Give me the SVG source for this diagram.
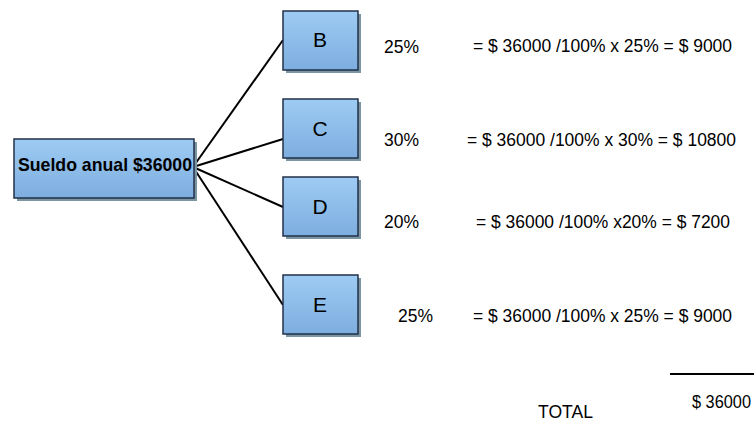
<svg xmlns="http://www.w3.org/2000/svg" width="756" height="423" viewBox="0 0 756 423">
  <defs>
    <linearGradient id="boxFill" x1="0" y1="0" x2="0" y2="1">
      <stop offset="0" stop-color="#9dcbf3"/>
      <stop offset="1" stop-color="#7eaedf"/>
    </linearGradient>
  </defs>
  <style>
    .shadow { fill: #7b95a3; }
    .box { fill: url(#boxFill); stroke: #22314a; stroke-width: 1.5; }
    .label { font-family: "Liberation Sans", Arial, sans-serif; font-size: 21px; fill: #000; text-anchor: middle; }
    .main { font-family: "Liberation Sans", Arial, sans-serif; font-size: 18.5px; font-weight: bold; fill: #000; }
    .txt { font-family: "Liberation Sans", Arial, sans-serif; font-size: 18px; fill: #000; }
    .link { stroke: #000; stroke-width: 2; fill: none; }
  </style>
  <rect width="756" height="423" fill="#fff"/>

  <!-- connectors -->
  <g id="connectors">
    <line class="link" x1="193" y1="167" x2="283" y2="40"/>
    <line class="link" x1="193" y1="167" x2="283" y2="139"/>
    <line class="link" x1="193" y1="167" x2="283" y2="207"/>
    <line class="link" x1="193" y1="167" x2="283" y2="305"/>
  </g>

  <!-- nodes -->
  <g id="node-sueldo">
    <rect class="shadow" x="17" y="142" width="180" height="59"/>
    <rect class="box" x="14" y="139" width="180" height="59"/>
    <text class="main" x="18" y="171" textLength="174" lengthAdjust="spacingAndGlyphs">Sueldo anual $36000</text>
  </g>
  <g id="node-b">
    <rect class="shadow" x="286" y="14" width="75" height="59"/>
    <rect class="box" x="283" y="11" width="75" height="59"/>
    <text class="label" x="320" y="47">B</text>
  </g>
  <g id="node-c">
    <rect class="shadow" x="286" y="102" width="75" height="59"/>
    <rect class="box" x="283" y="99" width="75" height="59"/>
    <text class="label" x="320" y="136">C</text>
  </g>
  <g id="node-d">
    <rect class="shadow" x="286" y="180" width="75" height="59"/>
    <rect class="box" x="283" y="177" width="75" height="59"/>
    <text class="label" x="320" y="214">D</text>
  </g>
  <g id="node-e">
    <rect class="shadow" x="286" y="278" width="75" height="59"/>
    <rect class="box" x="283" y="275" width="75" height="59"/>
    <text class="label" x="320" y="312">E</text>
  </g>

  <!-- percentages and calculations -->
  <g id="calculations">
    <text class="txt" x="384" y="53" textLength="35" lengthAdjust="spacingAndGlyphs">25%</text>
    <text class="txt" x="473" y="52" textLength="259" lengthAdjust="spacingAndGlyphs">= $ 36000 /100% x 25% = $ 9000</text>
    <text class="txt" x="384" y="146" textLength="35" lengthAdjust="spacingAndGlyphs">30%</text>
    <text class="txt" x="467" y="146" textLength="269" lengthAdjust="spacingAndGlyphs">= $ 36000 /100% x 30% = $ 10800</text>
    <text class="txt" x="384" y="228" textLength="35" lengthAdjust="spacingAndGlyphs">20%</text>
    <text class="txt" x="476" y="228" textLength="254" lengthAdjust="spacingAndGlyphs">= $ 36000 /100% x20% = $ 7200</text>
    <text class="txt" x="398" y="322" textLength="35" lengthAdjust="spacingAndGlyphs">25%</text>
    <text class="txt" x="473" y="322" textLength="259" lengthAdjust="spacingAndGlyphs">= $ 36000 /100% x 25% = $ 9000</text>
  </g>

  <!-- total -->
  <g id="total">
    <line x1="670" y1="374" x2="754" y2="374" stroke="#000" stroke-width="2"/>
    <text class="txt" x="538" y="418" textLength="55" lengthAdjust="spacingAndGlyphs">TOTAL</text>
    <text class="txt" x="692" y="408" textLength="59" lengthAdjust="spacingAndGlyphs">$ 36000</text>
  </g>
</svg>
